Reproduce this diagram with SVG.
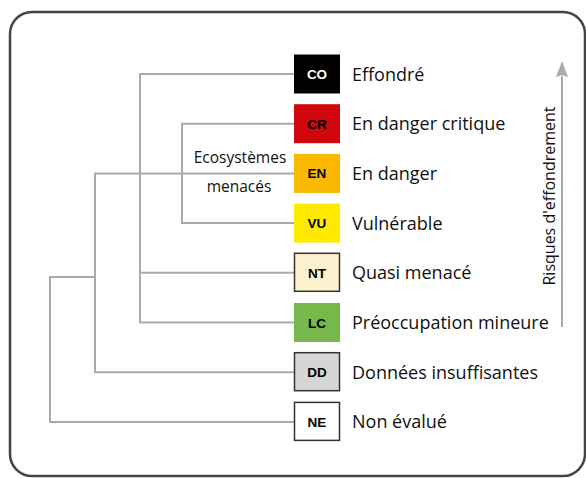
<svg xmlns="http://www.w3.org/2000/svg" width="586" height="478" viewBox="0 0 586 478">
<style>
.frame{fill:#fff;stroke:#444;stroke-width:2.5}
.ln{fill:none;stroke:#aaa;stroke-width:2}
.box{stroke:none}
.bb{stroke:#333;stroke-width:1.5}
.code{font-family:"Liberation Sans",Arial,sans-serif;font-weight:bold;font-size:13.5px;text-anchor:middle}
.lbl{font-family:"Open Sans","Noto Sans",sans-serif;font-size:18px;fill:#111}
.sm{font-family:"Open Sans","Noto Sans",sans-serif;font-size:15.5px;fill:#111;text-anchor:middle}
.vt{font-family:"Open Sans","Noto Sans",sans-serif;font-size:16px;fill:#111;text-anchor:middle}
</style>
<rect class="frame" x="10" y="12" width="575" height="464" rx="22" ry="22"/>
<g id="connectors">
<path class="ln" d="M294,74 H140 V322.5 H294 M140,272.8 H294"/>
<path class="ln" d="M294,123.7 H182 V223.1 H294"/>
<path class="ln" d="M294,173.4 H95 V372.2 H294"/>
<path class="ln" d="M95,277 H50 V421.9 H294"/>
<line x1="562" y1="327" x2="562" y2="76" stroke="#aaa" stroke-width="2"/>
<path d="M562,61 L568,77 L562,75 L556,77 Z" fill="#aaa"/>
</g>
<g id="CO"><rect class="box" x="294" y="54.5" width="46" height="39" fill="#000"/><text class="code" x="317" y="79" fill="#fff">CO</text><text class="lbl" x="352" y="80.5">Effondré</text></g>
<g id="CR"><rect class="box" x="294" y="104.2" width="46" height="39" fill="#d0070d"/><text class="code" x="317" y="128.7">CR</text><text class="lbl" x="352" y="130.2">En danger critique</text></g>
<g id="EN"><rect class="box" x="294" y="153.9" width="46" height="39" fill="#fbb800"/><text class="code" x="317" y="178.4">EN</text><text class="lbl" x="352" y="179.9">En danger</text></g>
<g id="VU"><rect class="box" x="294" y="203.6" width="46" height="39" fill="#ffea00"/><text class="code" x="317" y="228.1">VU</text><text class="lbl" x="352" y="229.6">Vulnérable</text></g>
<g id="NT"><rect class="bb" x="294.5" y="253.3" width="45" height="38" fill="#fdf2cd"/><text class="code" x="317" y="277.8">NT</text><text class="lbl" x="352" y="279.3">Quasi menacé</text></g>
<g id="LC"><rect class="box" x="294" y="303" width="46" height="39" fill="#76b84a"/><text class="code" x="317" y="327.5">LC</text><text class="lbl" x="352" y="329">Préoccupation mineure</text></g>
<g id="DD"><rect class="bb" x="294.5" y="352.7" width="45" height="38" fill="#d5d6d5"/><text class="code" x="317" y="377.2">DD</text><text class="lbl" x="352" y="378.7">Données insuffisantes</text></g>
<g id="NE"><rect class="bb" x="294.5" y="402.4" width="45" height="38" fill="#fff"/><text class="code" x="317" y="426.9">NE</text><text class="lbl" x="352" y="428.4">Non évalué</text></g>
<g id="ecosystemes"><text class="sm" x="240" y="162.5">Ecosystèmes</text><text class="sm" x="239" y="191.5">menacés</text></g>
<g id="risques"><text class="vt" transform="translate(555,196) rotate(-90)">Risques d'effondrement</text></g>
</svg>
